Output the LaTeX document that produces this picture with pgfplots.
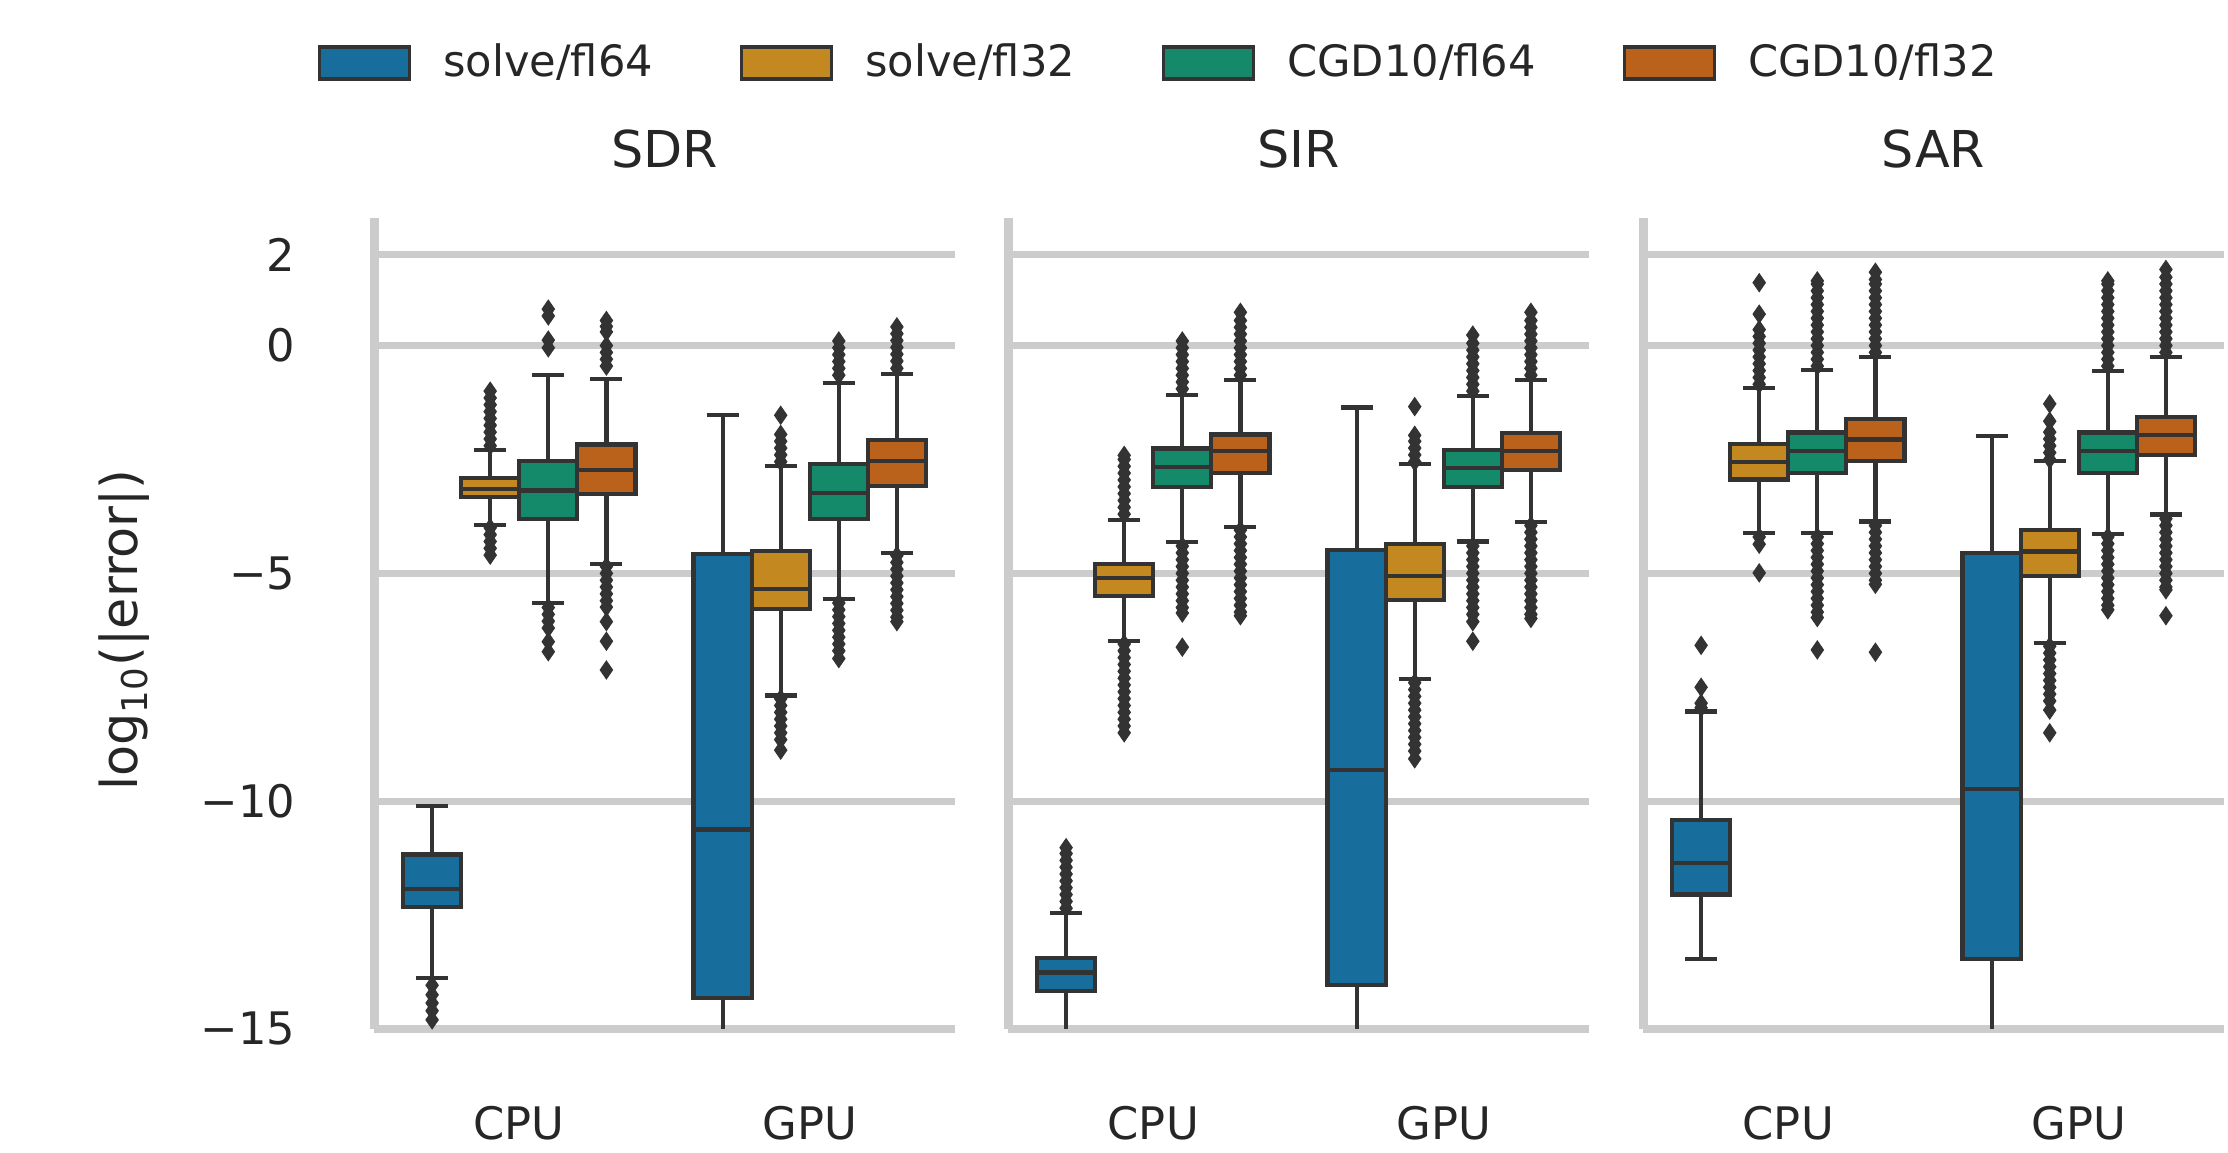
\documentclass[border=0pt]{standalone}
\usepackage{fontspec}
\setmainfont{DejaVu Sans}
\usepackage{pgfplots}
\pgfplotsset{compat=1.18}
\usepgfplotslibrary{statistics}
\definecolor{cA}{HTML}{176D9C}
\definecolor{cB}{HTML}{C38820}
\definecolor{cC}{HTML}{158A6A}
\definecolor{cD}{HTML}{BA611B}
\definecolor{gridgray}{HTML}{CCCCCC}
\definecolor{boxgray}{HTML}{333333}
\definecolor{txt}{HTML}{262626}
\pgfplotsset{
  panel/.style={
    scale only axis, width=145.25pt, height=202.75pt,
    anchor=south west,
    xmin=-0.5, xmax=1.5, ymin=-15, ymax=2.8,
    axis x line*=bottom, axis y line*=left,
    x axis line style={-, draw=gridgray, line width=1.9pt},
    y axis line style={-, draw=gridgray, line width=2.25pt},
    ymajorgrids, grid style={draw=gridgray, line width=1.75pt},
    major tick length=0pt, tick style={draw=none},
    xtick={0,1}, xticklabels={CPU,GPU},
    ytick={-15,-10,-5,0,2},
    tick label style={font=\fontsize{11.2}{13}\selectfont, text=txt},
    xticklabel style={anchor=center, inner sep=0pt, yshift=-23.5pt},
    yticklabel style={anchor=east, inner sep=0pt, xshift=-19.5pt},
    every axis title/.style={at={(0.5,1)}, anchor=center, yshift=17.25pt, font=\fontsize{12.7}{15}\selectfont, text=txt},
    boxplot/draw direction=y,
    boxplot/box extend=0.2,
    boxplot/whisker extend=0.11,
  },
  bx/.style={forget plot, fill=#1, draw=boxgray, line width=1.05pt,
    mark=diamond*, mark size=2.2pt,
    mark options={fill=boxgray, draw=boxgray, line width=0.3pt, xscale=0.92, solid}},
  legpatch/.style={legend image code/.code={\draw[##1, line width=0.8pt] (0pt,-4pt) rectangle (22.5pt,4pt);}},
}
\newcommand{\bxp}[7]{\addplot[bx=#1, boxplot prepared={draw position=#2, lower whisker=#3, lower quartile=#4, median=#5, upper quartile=#6, upper whisker=#7}]}
\begin{document}
\begin{tikzpicture}
\useasboundingbox (0,0) rectangle (557pt,288.25pt);
% ---------------- SDR ----------------
\begin{axis}[panel, at={(93.5pt,31pt)}, title={SDR},
  yticklabels={−15,−10,−5,0,2},
  ylabel={log\textsubscript{10}(|error|)},
  every axis y label/.style={at={(axis description cs:-0.4303,0.492)}, rotate=90, anchor=center, font=\fontsize{12.7}{15}\selectfont, text=txt},
  legend style={draw=none, fill=none, inner sep=0pt, outer sep=0pt,
    at={(-0.0964,1.1911)}, anchor=west, font=\fontsize{10.8}{13}\selectfont, text=txt,
    nodes={inner sep=0pt},
    /tikz/every odd column/.append style={column sep=8pt},
    /tikz/every even column/.append style={column sep=21.75pt}},
  legend columns=4]
\addlegendimage{legpatch, fill=cA, draw=boxgray}
\addlegendentry{solve/fl64}
\addlegendimage{legpatch, fill=cB, draw=boxgray}
\addlegendentry{solve/fl32}
\addlegendimage{legpatch, fill=cC, draw=boxgray}
\addlegendentry{CGD10/fl64}
\addlegendimage{legpatch, fill=cD, draw=boxgray}
\addlegendentry{CGD10/fl32}
\bxp{cA}{-0.3}{-13.88}{-12.32}{-11.93}{-11.17}{-10.11} table[row sep=\\,y index=0]{data\\ -14.04\\ -14.25\\ -14.43\\ -14.6\\ -14.8\\};
\bxp{cB}{-0.1}{-3.94}{-3.33}{-3.14}{-2.91}{-2.30} table[row sep=\\,y index=0]{data\\ -2.2\\ -2.05\\ -1.9\\ -1.75\\ -1.6\\ -1.45\\ -1.3\\ -1.15\\ -1.0\\ -4.0\\ -4.15\\ -4.3\\ -4.45\\ -4.6\\};
\bxp{cC}{0.1}{-5.65}{-3.81}{-3.18}{-2.54}{-0.65} table[row sep=\\,y index=0]{data\\ 0.8\\ 0.65\\ 0.12\\ -0.05\\ -5.75\\ -5.9\\ -6.05\\ -6.2\\ -6.5\\ -6.72\\};
\bxp{cD}{0.3}{-4.79}{-3.25}{-2.74}{-2.17}{-0.74} table[row sep=\\,y index=0]{data\\ 0.55\\ 0.42\\ 0.3\\ 0.0\\ -0.15\\ -0.3\\ -0.45\\ -4.85\\ -5.0\\ -5.15\\ -5.3\\ -5.45\\ -5.6\\ -5.74\\ -6.06\\ -6.49\\ -7.12\\};
\bxp{cA}{0.7}{-16}{-14.32}{-10.62}{-4.57}{-1.52} coordinates {};
\bxp{cB}{0.9}{-7.68}{-5.79}{-5.34}{-4.51}{-2.64} table[row sep=\\,y index=0]{data\\ -1.53\\ -1.95\\ -2.1\\ -2.25\\ -2.4\\ -2.55\\ -7.75\\ -7.9\\ -8.05\\ -8.2\\ -8.35\\ -8.5\\ -8.65\\ -8.88\\};
\bxp{cC}{1.1}{-5.57}{-3.81}{-3.23}{-2.60}{-0.83} table[row sep=\\,y index=0]{data\\ 0.1\\ -0.05\\ -0.2\\ -0.35\\ -0.5\\ -0.65\\ -5.65\\ -5.8\\ -5.95\\ -6.1\\ -6.25\\ -6.4\\ -6.55\\ -6.7\\ -6.87\\};
\bxp{cD}{1.3}{-4.55}{-3.08}{-2.54}{-2.07}{-0.62} table[row sep=\\,y index=0]{data\\ 0.41\\ 0.26\\ 0.11\\ -0.04\\ -0.19\\ -0.34\\ -0.5\\ -4.61\\ -4.76\\ -4.91\\ -5.06\\ -5.21\\ -5.36\\ -5.51\\ -5.66\\ -5.81\\ -5.96\\ -6.06\\};
\end{axis}
% ---------------- SIR ----------------
\begin{axis}[panel, at={(252pt,31pt)}, title={SIR}, yticklabels={}]
\bxp{cA}{-0.3}{-16}{-14.16}{-13.76}{-13.44}{-12.46} table[row sep=\\,y index=0]{data\\ -12.35\\ -12.2\\ -12.05\\ -11.9\\ -11.75\\ -11.6\\ -11.45\\ -11.3\\ -11.15\\ -11.02\\};
\bxp{cB}{-0.1}{-6.48}{-5.49}{-5.11}{-4.80}{-3.83} table[row sep=\\,y index=0]{data\\ -3.7\\ -3.55\\ -3.4\\ -3.25\\ -3.1\\ -2.95\\ -2.8\\ -2.65\\ -2.5\\ -2.41\\ -6.55\\ -6.7\\ -6.85\\ -7.0\\ -7.15\\ -7.3\\ -7.45\\ -7.6\\ -7.75\\ -7.9\\ -8.05\\ -8.2\\ -8.35\\ -8.5\\};
\bxp{cC}{0.1}{-4.31}{-3.10}{-2.66}{-2.26}{-1.08} table[row sep=\\,y index=0]{data\\ -0.95\\ -0.8\\ -0.65\\ -0.5\\ -0.35\\ -0.2\\ -0.05\\ 0.1\\ -4.4\\ -4.55\\ -4.7\\ -4.85\\ -5.0\\ -5.15\\ -5.3\\ -5.45\\ -5.6\\ -5.75\\ -5.87\\ -6.62\\};
\bxp{cD}{0.3}{-3.98}{-2.79}{-2.32}{-1.95}{-0.75} table[row sep=\\,y index=0]{data\\ -0.65\\ -0.5\\ -0.35\\ -0.2\\ -0.05\\ 0.1\\ 0.25\\ 0.4\\ 0.55\\ 0.73\\ -4.05\\ -4.2\\ -4.35\\ -4.5\\ -4.65\\ -4.8\\ -4.95\\ -5.1\\ -5.25\\ -5.4\\ -5.55\\ -5.7\\ -5.85\\ -5.93\\};
\bxp{cA}{0.7}{-16}{-14.03}{-9.32}{-4.48}{-1.36} coordinates {};
\bxp{cB}{0.9}{-7.32}{-5.58}{-5.05}{-4.36}{-2.60} table[row sep=\\,y index=0]{data\\ -1.34\\ -1.97\\ -2.1\\ -2.25\\ -2.4\\ -2.55\\ -7.4\\ -7.55\\ -7.7\\ -7.85\\ -8.0\\ -8.15\\ -8.3\\ -8.45\\ -8.6\\ -8.75\\ -8.9\\ -9.07\\};
\bxp{cC}{1.1}{-4.30}{-3.10}{-2.68}{-2.30}{-1.11} table[row sep=\\,y index=0]{data\\ -1.0\\ -0.85\\ -0.7\\ -0.55\\ -0.4\\ -0.25\\ -0.1\\ 0.05\\ 0.23\\ -4.4\\ -4.55\\ -4.7\\ -4.85\\ -5.0\\ -5.15\\ -5.3\\ -5.45\\ -5.6\\ -5.75\\ -5.9\\ -6.06\\ -6.49\\};
\bxp{cD}{1.3}{-3.88}{-2.73}{-2.31}{-1.92}{-0.75} table[row sep=\\,y index=0]{data\\ -0.65\\ -0.5\\ -0.35\\ -0.2\\ -0.05\\ 0.1\\ 0.25\\ 0.4\\ 0.55\\ 0.73\\ -3.95\\ -4.1\\ -4.25\\ -4.4\\ -4.55\\ -4.7\\ -4.85\\ -5.0\\ -5.15\\ -5.3\\ -5.45\\ -5.6\\ -5.75\\ -5.9\\ -5.99\\};
\end{axis}
% ---------------- SAR ----------------
\begin{axis}[panel, at={(410.75pt,31pt)}, title={SAR}, yticklabels={}]
\bxp{cA}{-0.3}{-13.47}{-12.05}{-11.36}{-10.41}{-8.03} table[row sep=\\,y index=0]{data\\ -7.85\\ -7.95\\ -7.5\\ -6.58\\};
\bxp{cB}{-0.1}{-4.12}{-2.94}{-2.55}{-2.16}{-0.93} table[row sep=\\,y index=0]{data\\ 1.38\\ 0.69\\ 0.35\\ 0.2\\ 0.05\\ -0.1\\ -0.25\\ -0.4\\ -0.55\\ -0.7\\ -0.85\\ -4.2\\ -4.36\\ -4.99\\};
\bxp{cC}{0.1}{-4.12}{-2.80}{-2.32}{-1.91}{-0.54} table[row sep=\\,y index=0]{data\\ -0.45\\ -0.3\\ -0.15\\ 0.0\\ 0.15\\ 0.3\\ 0.45\\ 0.6\\ 0.75\\ 0.9\\ 1.05\\ 1.2\\ 1.35\\ 1.42\\ -4.2\\ -4.35\\ -4.5\\ -4.65\\ -4.8\\ -4.95\\ -5.1\\ -5.25\\ -5.4\\ -5.55\\ -5.7\\ -5.85\\ -5.97\\ -6.68\\};
\bxp{cD}{0.3}{-3.86}{-2.54}{-2.06}{-1.61}{-0.25} table[row sep=\\,y index=0]{data\\ -0.15\\ 0.0\\ 0.15\\ 0.3\\ 0.45\\ 0.6\\ 0.75\\ 0.9\\ 1.05\\ 1.2\\ 1.35\\ 1.45\\ 1.61\\ -3.95\\ -4.1\\ -4.25\\ -4.4\\ -4.55\\ -4.7\\ -4.85\\ -5.0\\ -5.15\\ -5.24\\ -6.73\\};
\bxp{cA}{0.7}{-16}{-13.47}{-9.74}{-4.55}{-1.98} coordinates {};
\bxp{cB}{0.9}{-6.53}{-5.05}{-4.52}{-4.05}{-2.54} table[row sep=\\,y index=0]{data\\ -1.28\\ -1.66\\ -1.9\\ -2.05\\ -2.2\\ -2.35\\ -2.5\\ -6.6\\ -6.75\\ -6.9\\ -7.05\\ -7.2\\ -7.35\\ -7.5\\ -7.65\\ -7.8\\ -8.0\\ -8.5\\};
\bxp{cC}{1.1}{-4.13}{-2.80}{-2.32}{-1.91}{-0.55} table[row sep=\\,y index=0]{data\\ -0.45\\ -0.3\\ -0.15\\ 0.0\\ 0.15\\ 0.3\\ 0.45\\ 0.6\\ 0.75\\ 0.9\\ 1.05\\ 1.2\\ 1.35\\ 1.42\\ -4.2\\ -4.35\\ -4.5\\ -4.65\\ -4.8\\ -4.95\\ -5.1\\ -5.25\\ -5.4\\ -5.55\\ -5.7\\ -5.8\\};
\bxp{cD}{1.3}{-3.71}{-2.41}{-1.97}{-1.56}{-0.25} table[row sep=\\,y index=0]{data\\ -0.15\\ 0.0\\ 0.15\\ 0.3\\ 0.45\\ 0.6\\ 0.75\\ 0.9\\ 1.05\\ 1.2\\ 1.35\\ 1.5\\ 1.67\\ -3.8\\ -3.95\\ -4.1\\ -4.25\\ -4.4\\ -4.55\\ -4.7\\ -4.85\\ -5.0\\ -5.15\\ -5.3\\ -5.36\\ -5.93\\};
\end{axis}
\end{tikzpicture}
\end{document}
